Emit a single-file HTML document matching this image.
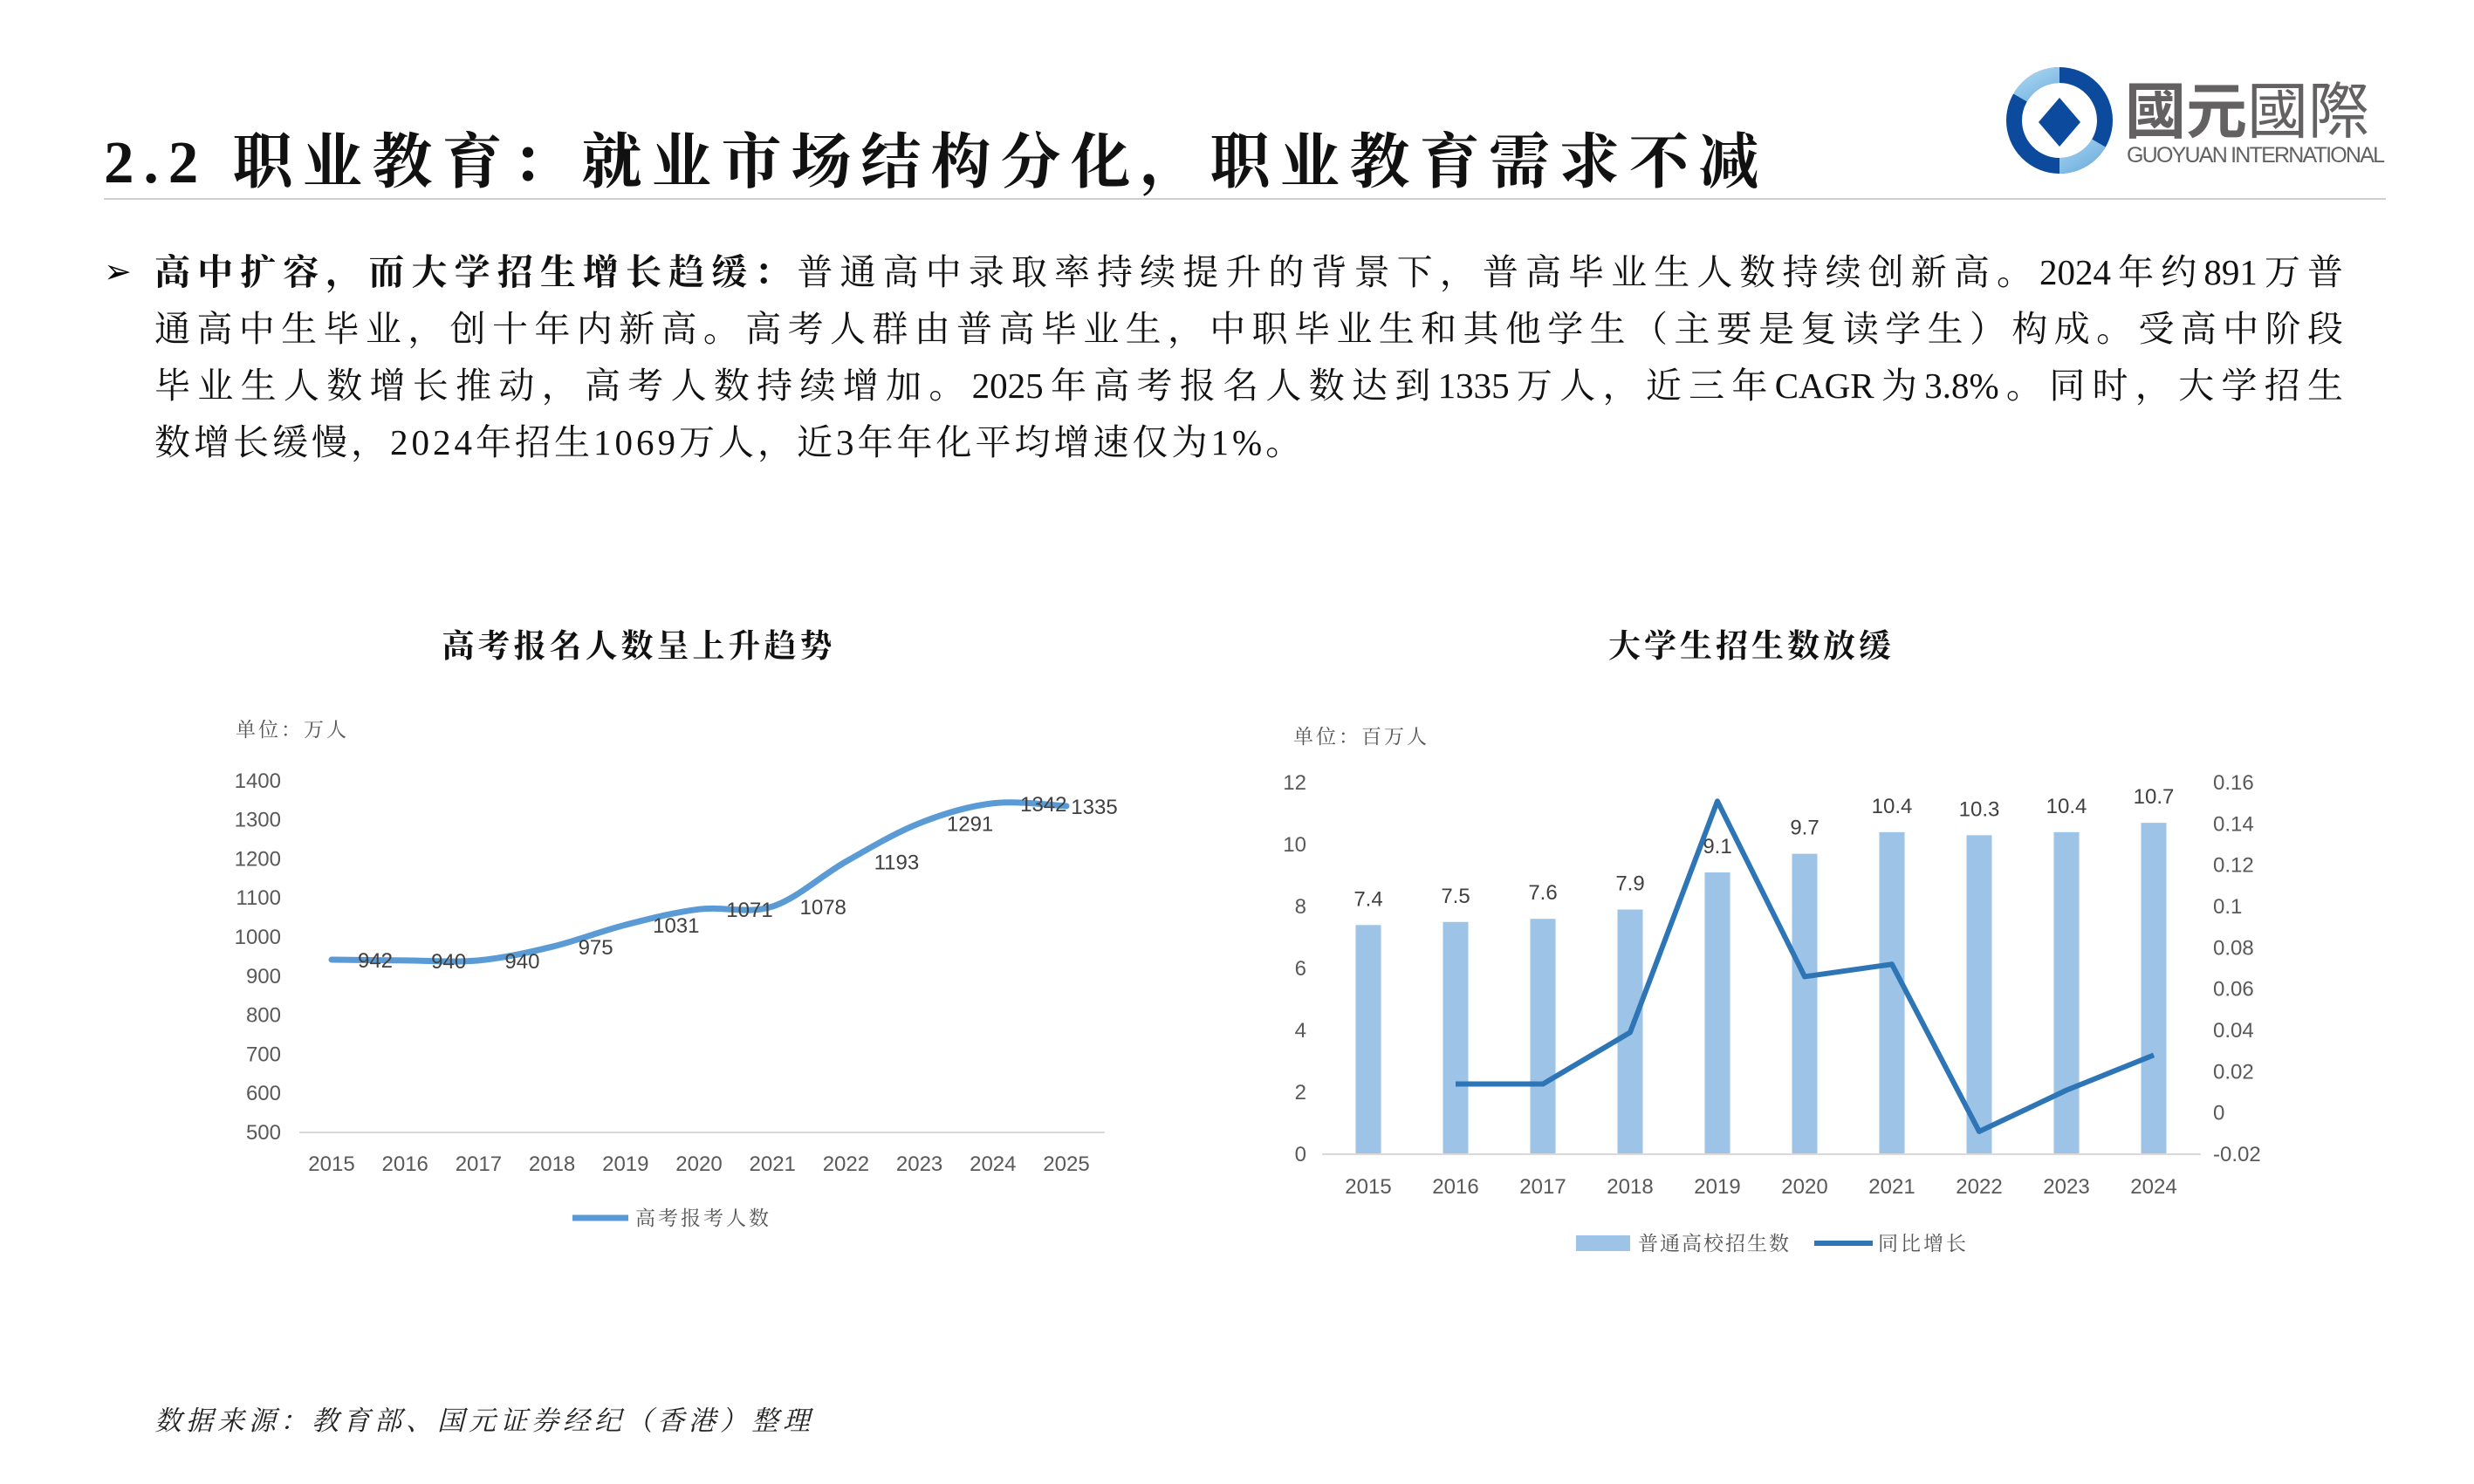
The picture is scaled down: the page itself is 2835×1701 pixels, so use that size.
<!DOCTYPE html>
<html><head><meta charset="utf-8">
<style>
html,body{margin:0;padding:0;background:#fff;}
#page{position:relative;width:2835px;height:1701px;overflow:hidden;background:#fff;font-family:"Liberation Serif","Noto Serif CJK SC",serif;}
.title{position:absolute;left:119px;top:130px;font-size:69px;font-weight:bold;color:#111;white-space:nowrap;letter-spacing:11px;}
.rule{position:absolute;left:119px;top:227px;width:2615px;height:2px;background:#cfcfcf;}
.body{position:absolute;left:177px;top:280px;width:2508px;font-size:41px;color:#111;}
.ln{height:65px;line-height:65px;text-align:justify;text-align-last:justify;white-space:nowrap;}
.ln.last{text-align-last:left;letter-spacing:4px;}
.bullet{position:absolute;left:119px;top:280px;line-height:65px;font-size:38px;}
.src{position:absolute;left:177px;top:1603px;font-size:31px;font-style:italic;color:#222;letter-spacing:5px;}
svg{position:absolute;left:0;top:0;}
</style></head>
<body>
<div id="page">
<div class="title">2.2 职业教育：就业市场结构分化，职业教育需求不减</div>
<div class="rule"></div>
<svg width="2835" height="1701" style="pointer-events:none">
  <defs>
    <linearGradient id="lg" x1="0" y1="0" x2="1" y2="1"><stop offset="0" stop-color="#a7d3f0"/><stop offset="1" stop-color="#6fb0e0"/></linearGradient>
  </defs>
  <circle cx="2360" cy="138" r="52" fill="none" stroke="#0b4a9c" stroke-width="18"/>
  <path d="M2360 86 A52 52 0 0 0 2315 112" fill="none" stroke="url(#lg)" stroke-width="18"/>
  <path d="M2360 190 A52 52 0 0 0 2405 164" fill="none" stroke="url(#lg)" stroke-width="18"/>
  <path d="M2336 140 L2360 112 L2384 140 L2360 168 Z" fill="#0b4a9c"/>
  <text x="2435" y="152" font-family="Liberation Sans,'Noto Sans CJK TC',sans-serif" font-size="70" fill="#636162" font-weight="bold">國元<tspan font-weight="normal">國際</tspan></text>
  <text x="2437" y="186" font-family="Liberation Sans,sans-serif" font-size="25" fill="#636162" textLength="296">GUOYUAN INTERNATIONAL</text>
</svg>
<div class="bullet">➢</div>
<div class="body">
<div class="ln"><b>高中扩容，而大学招生增长趋缓：</b>普通高中录取率持续提升的背景下，普高毕业生人数持续创新高。2024年约891万普</div>
<div class="ln">通高中生毕业，创十年内新高。高考人群由普高毕业生，中职毕业生和其他学生（主要是复读学生）构成。受高中阶段</div>
<div class="ln">毕业生人数增长推动，高考人数持续增加。2025年高考报名人数达到1335万人，近三年CAGR为3.8%。同时，大学招生</div>
<div class="ln last">数增长缓慢，2024年招生1069万人，近3年年化平均增速仅为1%。</div>
</div>
<div class="src">数据来源：教育部、国元证券经纪（香港）整理</div>
<svg id="charts" width="2835" height="1701"></svg>
</div>
<script>
// Chart 1 data
const years1 = ['2015','2016','2017','2018','2019','2020','2021','2022','2023','2024','2025'];
const applicants = [942,940,940,975,1031,1071,1078,1193,1291,1342,1335];
const ticks1 = [500,600,700,800,900,1000,1100,1200,1300,1400];
// Chart 2 data
const years2 = ['2015','2016','2017','2018','2019','2020','2021','2022','2023','2024'];
const enrolment = [7.4,7.5,7.6,7.9,9.1,9.7,10.4,10.3,10.4,10.7];
const growthYears = ['2016','2017','2018','2019','2020','2021','2022','2023','2024'];
const growth = [0.014,0.014,0.039,0.151,0.066,0.072,-0.009,0.011,0.028];
const ticksL = [0,2,4,6,8,10,12];
const ticksR = [-0.02,0,0.02,0.04,0.06,0.08,0.1,0.12,0.14,0.16];
const ticksRLabels = ['-0.02','0','0.02','0.04','0.06','0.08','0.1','0.12','0.14','0.16'];

const NS='http://www.w3.org/2000/svg';
const svg=document.getElementById('charts');
const SANS='"Liberation Sans","Noto Sans CJK SC",sans-serif';
const SERIF='"Liberation Serif","Noto Serif CJK SC",serif';
function mk(tag,attrs,parent){const e=document.createElementNS(NS,tag);for(const k in attrs)e.setAttribute(k,attrs[k]);(parent||svg).appendChild(e);return e;}
function txt(x,y,s,attrs){const t=mk('text',Object.assign({x:x,y:y,'font-family':SANS,'font-size':24,fill:'#595959'},attrs||{}));t.textContent=s;return t;}

// ---- Chart 1 ----
const x1=i=>380+i*84.2;
const y1=v=>1298-(v-500)*0.448;
let t=txt(732,753,'高考报名人数呈上升趋势',{'text-anchor':'middle','font-family':SERIF,'font-size':37,'font-weight':'bold',fill:'#111','letter-spacing':4});


t=txt(270,844,'单位：万人',{'font-family':SERIF,'font-size':23,fill:'#555','letter-spacing':3});


ticks1.forEach(v=>{const e=txt(322,y1(v)+8,String(v),{'text-anchor':'end'});

});
let base=mk('line',{x1:343,x2:1266,y1:y1(500),y2:y1(500),stroke:'#d9d9d9','stroke-width':2});


years1.forEach((y,i)=>{const e=txt(x1(i),1342,y,{'text-anchor':'middle'});

});
const pts=applicants.map((v,i)=>[x1(i),y1(v)]);
let d='M'+pts[0][0]+' '+pts[0][1];
for(let i=0;i<pts.length-1;i++){const p0=pts[Math.max(0,i-1)],p1=pts[i],p2=pts[i+1],p3=pts[Math.min(pts.length-1,i+2)];
const k=1/6;d+=` C${p1[0]+(p2[0]-p0[0])*k} ${p1[1]+(p2[1]-p0[1])*k} ${p2[0]-(p3[0]-p1[0])*k} ${p2[1]-(p3[1]-p1[1])*k} ${p2[0]} ${p2[1]}`;}
const line1=mk('path',{d:d,fill:'none',stroke:'#5b9bd5','stroke-width':7,'stroke-linecap':'round'});


applicants.forEach((v,i)=>{const dx=i===10?32:(i<4?50:58);const e=txt(x1(i)+dx,y1(v)+9,String(v),{'text-anchor':'middle',fill:'#404040'});

});
const lg1=mk('line',{x1:656,x2:720,y1:1396,y2:1396,stroke:'#5b9bd5','stroke-width':7});


t=txt(728,1404,'高考报考人数',{'font-family':SERIF,'font-size':23,fill:'#555','letter-spacing':3});



// ---- Chart 2 ----
const x2=i=>1568+i*100;
const yL=v=>1323-v*35.5;
const yR=v=>1323-(v+0.02)*(426/0.18);
t=txt(2007,753,'大学生招生数放缓',{'text-anchor':'middle','font-family':SERIF,'font-size':37,'font-weight':'bold',fill:'#111','letter-spacing':4});


t=txt(1482,852,'单位：百万人',{'font-family':SERIF,'font-size':23,fill:'#555','letter-spacing':3});


ticksL.forEach(v=>{const e=txt(1497,yL(v)+8,String(v),{'text-anchor':'end'});

});
ticksR.forEach((v,i)=>{const e=txt(2536,yR(v)+8,ticksRLabels[i],{});

});
years2.forEach((y,i)=>{const e=txt(x2(i),1368,y,{'text-anchor':'middle'});

});
enrolment.forEach((v,i)=>{const r=mk('rect',{x:x2(i)-14.5,y:yL(v),width:29,height:yL(0)-yL(v),fill:'#9dc3e6'});


const e=txt(x2(i),yL(v)-22,String(v),{'text-anchor':'middle',fill:'#404040'});

});
base=mk('line',{x1:1515,x2:2522,y1:yL(0),y2:yL(0),stroke:'#d9d9d9','stroke-width':2});


const gp=growth.map((v,i)=>x2(years2.indexOf(growthYears[i]))+','+yR(v)).join(' ');
const line2=mk('polyline',{points:gp,fill:'none',stroke:'#2e75b6','stroke-width':6,'stroke-linejoin':'round'});


const lb=mk('rect',{x:1806,y:1416,width:62,height:18,fill:'#9dc3e6'});


t=txt(1877,1433,'普通高校招生数',{'font-family':SERIF,'font-size':23,fill:'#555','letter-spacing':2});


const ll=mk('line',{x1:2079,x2:2146,y1:1425,y2:1425,stroke:'#2e75b6','stroke-width':6});


t=txt(2152,1433,'同比增长',{'font-family':SERIF,'font-size':23,fill:'#555','letter-spacing':3});


</script>
</body></html>
